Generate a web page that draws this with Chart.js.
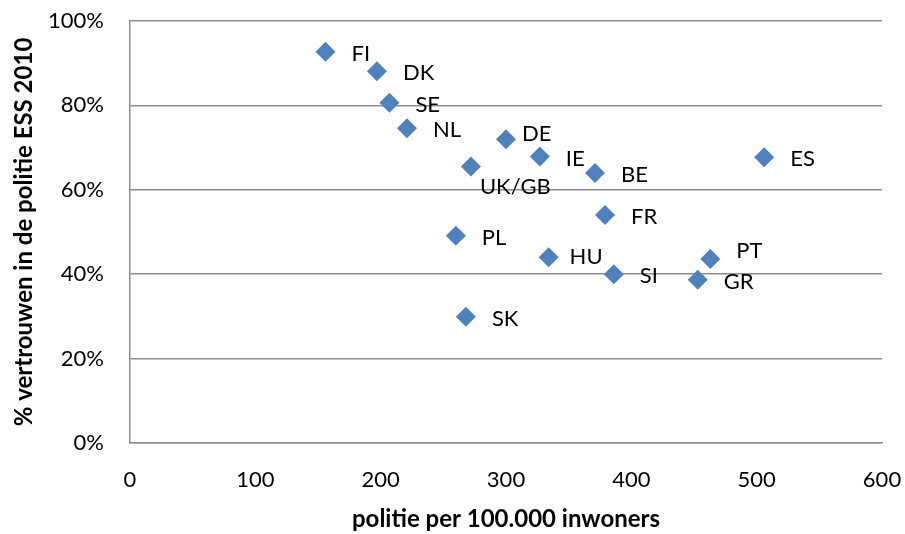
<!DOCTYPE html>
<html>
<head>
<meta charset="utf-8">
<script src="https://cdn.jsdelivr.net/npm/chart.js@4/dist/chart.umd.min.js"></script>
<style>
  html, body { margin: 0; padding: 0; background: #ffffff; }
  #wrap { width: 905px; height: 534px; position: relative; }
</style>
</head>
<body>
<div id="wrap"><canvas id="c" width="905" height="534"></canvas></div>
<script>
// ---- Data ----
const countries = ['FI','DK','SE','NL','DE','UK/GB','IE','BE','ES','FR','PL','HU','SI','PT','GR','SK'];
const policePer100k = [156, 197, 207, 221, 300, 272, 327, 371, 506, 379, 260, 334, 386, 463, 453, 268];
const trustPct = [92.7, 88.1, 80.6, 74.6, 72.0, 65.5, 67.9, 64.0, 67.7, 54.0, 49.1, 44.0, 40.0, 43.6, 38.7, 29.9];
const xTicks = [0, 100, 200, 300, 400, 500, 600];
const yTicks = [0, 20, 40, 60, 80, 100];

// ---- Styling ----
const FONT = 'Lato, "Open Sans", sans-serif';
const GRID = '#8c8c8c';
const MARKER = '#4f81bd';
const labelOffsetDefault = { dx: 26, dy: 2 };
const labelOffsets = {
  'DE': { dx: 16, dy: -5 },
  'UK/GB': { dx: 9, dy: 20 },
  'HU': { dx: 21, dy: 0 },
  'PT': { dx: 26, dy: -8 }
};

const points = countries.map((c, i) => ({ x: policePer100k[i], y: trustPct[i], label: c }));

const labelPlugin = {
  id: 'pointLabels',
  afterDatasetsDraw(chart) {
    const ctx = chart.ctx;
    const meta = chart.getDatasetMeta(0);
    ctx.save();
    ctx.font = '22px ' + FONT;
    ctx.fillStyle = '#000000';
    ctx.textAlign = 'left';
    ctx.textBaseline = 'middle';
    meta.data.forEach((el, i) => {
      const name = countries[i];
      const off = labelOffsets[name] || labelOffsetDefault;
      ctx.fillText(name, el.x + off.dx, el.y + off.dy);
    });
    ctx.restore();
  }
};

new Chart(document.getElementById('c'), {
  type: 'scatter',
  data: {
    datasets: [{
      data: points,
      pointStyle: 'rectRot',
      radius: 10,
      hoverRadius: 10,
      backgroundColor: MARKER,
      borderColor: MARKER,
      borderWidth: 0
    }]
  },
  options: {
    responsive: false,
    animation: false,
    devicePixelRatio: 1,
    layout: { padding: { top: 21, right: 23, left: 0, bottom: 0 } },
    plugins: {
      legend: { display: false },
      tooltip: { enabled: false }
    },
    scales: {
      x: {
        type: 'linear',
        min: 0, max: 600,
        afterBuildTicks(scale) { scale.ticks = xTicks.map(v => ({ value: v })); },
        afterFit(scale) { scale.height = 91; scale.paddingLeft = 0; scale.paddingRight = 0; },
        grid: { display: false, drawTicks: false },
        border: { display: true, color: GRID, width: 1.5 },
        ticks: { color: '#000', font: { family: FONT, size: 22 }, padding: 24, maxRotation: 0 },
        title: {
          display: true,
          text: 'politie per 100.000 inwoners',
          color: '#000',
          font: { family: FONT, size: 24, weight: 'bold' },
          padding: { top: 0, bottom: 0 }
        }
      },
      y: {
        type: 'linear',
        min: 0, max: 100,
        afterBuildTicks(scale) { scale.ticks = yTicks.map(v => ({ value: v })); },
        afterFit(scale) { scale.width = 130; scale.paddingTop = 0; scale.paddingBottom = 0; },
        grid: { color: GRID, lineWidth: 1.5, drawTicks: false },
        border: { display: true, color: GRID, width: 1.5 },
        ticks: {
          color: '#000', font: { family: FONT, size: 22 }, padding: 26,
          callback: (v) => v + '%'
        },
        title: {
          display: true,
          text: '% vertrouwen in de politie ESS 2010',
          color: '#000',
          font: { family: FONT, size: 24, weight: 'bold' },
          padding: { top: 10, bottom: 0 }
        }
      }
    }
  },
  plugins: [labelPlugin]
});
</script>
</body>
</html>
